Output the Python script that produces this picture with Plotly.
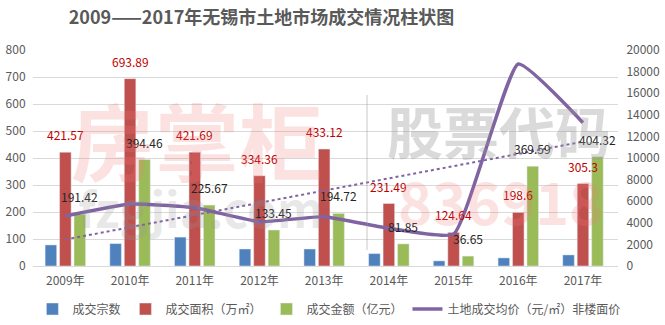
import numpy as np
import plotly.graph_objects as go

years = ['2009年', '2010年', '2011年', '2012年', '2013年', '2014年', '2015年', '2016年', '2017年']
deals = [78, 83, 107, 63, 63, 46, 19, 30, 41]
area = [421.57, 693.89, 421.69, 334.36, 433.12, 231.49, 124.64, 198.6, 305.3]
amount = [191.42, 394.46, 225.67, 133.45, 194.72, 81.85, 36.65, 369.59, 404.32]
price = [4630, 5740, 5400, 4100, 4570, 3490, 2950, 18700, 13270]

names = ['成交宗数', '成交面积（万㎡）', '成交金额（亿元）', '土地成交均价（元/㎡）非楼面价']
title = '2009——2017年无锡市土地市场成交情况柱状图'
watermarks = ['房掌柜', '股票代码', '836918', 'fzgjia.com']

FONT = 'Noto Sans CJK SC'
GREY = '#595959'

idx = np.arange(len(years))
coef = np.polyfit(idx, price, 1)
trend = np.polyval(coef, idx)

fig = go.Figure()
fig.add_trace(go.Bar(x=years, y=deals, name=names[0], marker_color='#4F81BD'))
fig.add_trace(go.Bar(x=years, y=area, name=names[1], marker_color='#C0504D'))
fig.add_trace(go.Bar(x=years, y=amount, name=names[2], marker_color='#9BBB59'))
fig.add_trace(go.Scatter(x=years, y=price, name=names[3], yaxis='y2', mode='lines',
                         line=dict(color='#8064A2', width=3.5, shape='spline', smoothing=0.4)))
fig.add_trace(go.Scatter(x=years, y=trend, yaxis='y2', mode='lines', showlegend=False,
                         line=dict(color='#8064A2', width=2, dash='dot')))

L, R, T, B = 33, 47, 50, 59
W, H = 665, 325
plot_w = W - L - R
plot_h = H - T - B
bargap = 0.33
slot = plot_w / len(years) * (1 - bargap) / 3


def px_to_paper(px, py):
    return (px - L) / plot_w, (H - B - py) / plot_h


ann = []
for i, y in enumerate(years):
    ann.append(dict(x=y, y=area[i], xref='x', yref='y', text=f'{area[i]:g}', showarrow=False,
                    yanchor='bottom', yshift=7, font=dict(color='#C00000', size=12, family=FONT)))
    ann.append(dict(x=y, y=amount[i], xref='x', yref='y', text=f'{amount[i]:g}', showarrow=False,
                    xshift=slot, yanchor='bottom', yshift=7, font=dict(color='#262626', size=12, family=FONT)))

# faint watermark
wm_style = [
    dict(x=197, y=138, size=84, color='rgba(240,120,120,0.22)'),
    dict(x=499, y=129, size=56, color='rgba(150,150,150,0.35)'),
    dict(x=500, y=200, size=58, color='rgba(240,120,120,0.22)'),
    dict(x=200, y=207, size=48, color='rgba(150,150,150,0.22)'),
]
for text, w in zip(watermarks, wm_style):
    xp, yp = px_to_paper(w['x'], w['y'])
    ann.append(dict(text=f'<b>{text}</b>', x=xp, y=yp, xref='paper', yref='paper', showarrow=False,
                    xanchor='center', yanchor='middle',
                    font=dict(size=w['size'], color=w['color'], family=FONT)))

x_div, y_div0 = px_to_paper(367, 250)
_, y_div1 = px_to_paper(367, 95)
_, leg_y = px_to_paper(0, 309)

fig.update_layout(
    width=W, height=H,
    margin=dict(l=L, r=R, t=T, b=B, autoexpand=False),
    paper_bgcolor='white', plot_bgcolor='white',
    font=dict(family=FONT, color=GREY, size=12),
    title=dict(text=f'<b>{title}</b>', x=261.5 / W, xanchor='center', y=1 - 18 / H,
               yanchor='middle', font=dict(size=18, color=GREY, family=FONT)),
    barmode='group', bargap=bargap, bargroupgap=0.2,
    xaxis=dict(showline=True, linecolor='#D9D9D9', linewidth=1, ticks='outside', ticklen=4,
               tickcolor='rgba(0,0,0,0)', tickfont=dict(size=12, color=GREY)),
    yaxis=dict(range=[0, 800], dtick=100, showgrid=True, gridcolor='#D9D9D9', zeroline=False,
               ticks='outside', ticklen=4, tickcolor='rgba(0,0,0,0)', tickfont=dict(size=12, color=GREY)),
    yaxis2=dict(range=[0, 20000], dtick=2000, tickformat='d', overlaying='y', side='right',
                showgrid=False, zeroline=False, ticks='outside', ticklen=5, tickcolor='rgba(0,0,0,0)',
                tickfont=dict(size=12, color=GREY)),
    legend=dict(orientation='h', x=-0.001, xanchor='left', y=leg_y, yanchor='middle',
                font=dict(size=12, color=GREY), traceorder='normal', itemwidth=30, tracegroupgap=0),
    annotations=ann,
    shapes=[dict(type='line', xref='paper', yref='paper', x0=x_div, x1=x_div,
                 y0=y_div0, y1=y_div1, line=dict(color='rgba(150,150,150,0.35)', width=1.5))],
)

fig.write_html('out.html')
